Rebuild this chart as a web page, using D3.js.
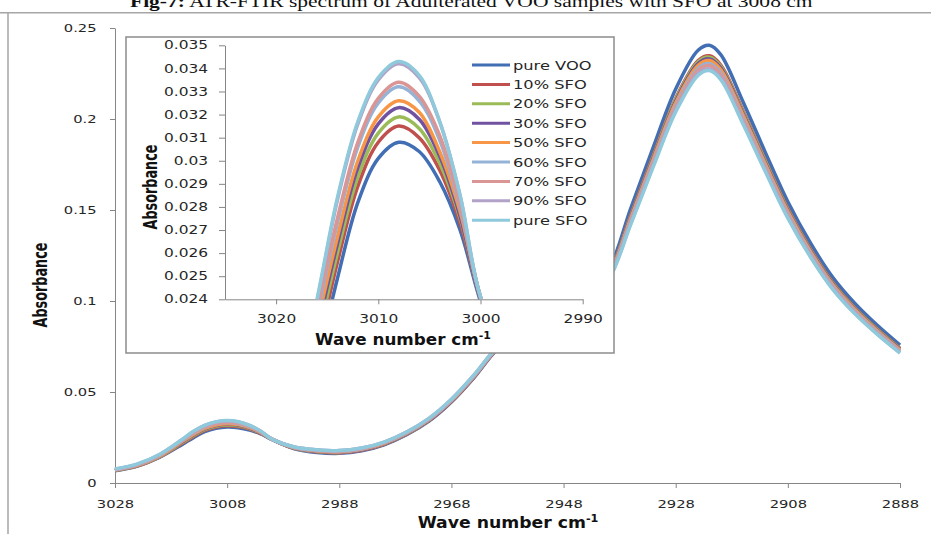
<!DOCTYPE html>
<html>
<head>
<meta charset="utf-8">
<script src="https://cdn.jsdelivr.net/npm/d3@7"></script>
<style>
  body { margin: 0; background: #fff; }
  svg { display: block; }
</style>
</head>
<body>
<svg id="chart" width="931" height="534"></svg>
<script>
// wave numbers (cm-1) shared by every spectrum
const wavenumbers = [3028, 3024, 3020, 3016, 3014, 3012, 3010, 3008, 3006, 3004, 3002, 3000,
  2996, 2992, 2988, 2984, 2980, 2976, 2972, 2968, 2964, 2960, 2956, 2952, 2948, 2944, 2940,
  2936, 2932, 2928, 2924, 2922, 2920, 2916, 2912, 2908, 2904, 2900, 2896, 2892, 2888]

const pureVOO = [0.0067,0.0093,0.0142,0.0212,0.0249,0.0282,0.0301,0.0308,0.0304,0.0291,0.0270,0.0239,
  0.0188,0.0168,0.0163,0.0177,0.0210,0.0265,0.0340,0.0445,0.0578,0.0730,0.0828,0.0878,0.0930,0.1010,0.1165,
  0.1510,0.1845,0.2165,0.2378,0.2405,0.2355,0.2095,0.1815,0.1545,0.1320,0.1130,0.0985,0.0865,0.0758]
const sfo10 = [0.0068,0.0094,0.0145,0.0218,0.0256,0.0289,0.0308,0.0315,0.0310,0.0296,0.0273,0.0240,
  0.0190,0.0171,0.0166,0.0180,0.0213,0.0268,0.0343,0.0448,0.0581,0.0732,0.0829,0.0878,0.0924,0.0998,0.1144,
  0.1474,0.1801,0.2113,0.2321,0.2347,0.2298,0.2045,0.1771,0.1508,0.1288,0.1103,0.0961,0.0844,0.0740]
const sfo20 = [0.0069,0.0095,0.0146,0.0222,0.0260,0.0293,0.0312,0.0319,0.0314,0.0299,0.0275,0.0240,
  0.0191,0.0173,0.0168,0.0182,0.0215,0.0270,0.0345,0.0450,0.0583,0.0733,0.0830,0.0878,0.0923,0.0996,0.1142,
  0.1469,0.1795,0.2107,0.2314,0.2340,0.2291,0.2038,0.1766,0.1503,0.1284,0.1099,0.0958,0.0842,0.0738]
const sfo30 = [0.0070,0.0096,0.0148,0.0226,0.0264,0.0297,0.0316,0.0323,0.0318,0.0302,0.0276,0.0240,
  0.0192,0.0174,0.0169,0.0183,0.0216,0.0271,0.0346,0.0451,0.0584,0.0734,0.0830,0.0878,0.0923,0.0994,0.1138,
  0.1463,0.1788,0.2098,0.2304,0.2330,0.2282,0.2030,0.1759,0.1497,0.1279,0.1095,0.0954,0.0838,0.0735]
const sfo50 = [0.0071,0.0097,0.0149,0.0229,0.0267,0.0300,0.0319,0.0326,0.0321,0.0304,0.0278,0.0241,
  0.0193,0.0176,0.0171,0.0185,0.0218,0.0273,0.0348,0.0453,0.0586,0.0735,0.0831,0.0878,0.0922,0.0992,0.1135,
  0.1457,0.1780,0.2089,0.2295,0.2321,0.2273,0.2022,0.1751,0.1491,0.1274,0.1090,0.0951,0.0835,0.0731]
const sfo60 = [0.0073,0.0100,0.0152,0.0233,0.0273,0.0306,0.0325,0.0332,0.0326,0.0309,0.0280,0.0241,
  0.0195,0.0178,0.0173,0.0187,0.0220,0.0275,0.0350,0.0455,0.0588,0.0737,0.0831,0.0878,0.0920,0.0989,0.1128,
  0.1447,0.1768,0.2074,0.2278,0.2304,0.2256,0.2007,0.1739,0.1480,0.1265,0.1083,0.0944,0.0829,0.0726]
const sfo70 = [0.0074,0.0101,0.0153,0.0235,0.0275,0.0308,0.0327,0.0334,0.0328,0.0311,0.0281,0.0241,
  0.0195,0.0179,0.0174,0.0188,0.0221,0.0276,0.0351,0.0456,0.0589,0.0737,0.0832,0.0878,0.0919,0.0987,0.1125,
  0.1441,0.1760,0.2065,0.2269,0.2294,0.2247,0.1999,0.1732,0.1474,0.1259,0.1078,0.0940,0.0825,0.0723]
const sfo90 = [0.0076,0.0104,0.0157,0.0239,0.0283,0.0316,0.0335,0.0342,0.0336,0.0317,0.0285,0.0241,
  0.0198,0.0183,0.0178,0.0192,0.0225,0.0280,0.0355,0.0460,0.0593,0.0740,0.0833,0.0878,0.0917,0.0983,0.1118,
  0.1428,0.1745,0.2048,0.2250,0.2275,0.2228,0.1982,0.1717,0.1462,0.1249,0.1069,0.0932,0.0818,0.0717]
const pureSFO = [0.0077,0.0105,0.0158,0.0240,0.0284,0.0317,0.0336,0.0343,0.0337,0.0317,0.0285,0.0241,
  0.0198,0.0183,0.0178,0.0192,0.0225,0.0280,0.0355,0.0460,0.0593,0.0740,0.0833,0.0878,0.0917,0.0981,0.1114,
  0.1422,0.1738,0.2039,0.2240,0.2266,0.2218,0.1973,0.1710,0.1455,0.1243,0.1064,0.0928,0.0815,0.0714]

const seriesNames = ["pure VOO", "10% SFO", "20% SFO", "30% SFO", "50% SFO", "60% SFO", "70% SFO", "90% SFO", "pure SFO"]
const seriesValues = [pureVOO, sfo10, sfo20, sfo30, sfo50, sfo60, sfo70, sfo90, pureSFO]
const colors = ["#426EB4", "#C0504D", "#9BBB59", "#7052A0", "#F79646", "#95B3D7", "#D99694", "#B3A2C7", "#8FC9DC"]

const xTicksMain = [3028, 3008, 2988, 2968, 2948, 2928, 2908, 2888]
const yTicksMain = [0, 0.05, 0.1, 0.15, 0.2, 0.25]
const xTicksInset = [3020, 3010, 3000, 2990]
const yTicksInset = [0.024, 0.025, 0.026, 0.027, 0.028, 0.029, 0.03, 0.031, 0.032, 0.033, 0.034, 0.035]

const series = seriesNames.map((name, i) => ({
  name: name,
  color: colors[i],
  points: wavenumbers.map((w, j) => ({ w: w, v: seriesValues[i][j] }))
}))

const svg = d3.select("#chart")
const axisColor = "#868686"
const font = "'DejaVu Sans', Verdana, sans-serif"

// page bits: caption cut off at the top (as in the scan) and frame lines
let caption = svg.append("text")
                 .attr("x", 0).attr("y", 0)
                 .style("font-family", "'Liberation Serif', 'Times New Roman', serif")
                 .style("font-size", "16px")
                 .attr("fill", "#111")
caption.append("tspan").style("font-weight", "bold").text("Fig-7:")
caption.append("tspan").text(" ATR-FTIR spectrum of Adulterated VOO samples with SFO at 3008 cm")
let capW = caption.node().getComputedTextLength()
caption.attr("transform", "translate(130,7) scale(" + (683 / capW) + ",1)")

svg.append("line").attr("x1", 0).attr("x2", 931).attr("y1", 12.7).attr("y2", 12.7)
   .attr("stroke", "#a6a6a6").attr("stroke-width", 1.5)
svg.append("line").attr("x1", 8).attr("x2", 8).attr("y1", 13).attr("y2", 534)
   .attr("stroke", "#a6a6a6").attr("stroke-width", 1.5)

// ---------- main chart ----------
let x = d3.scaleLinear().domain([3028, 2888]).range([115, 900])
let y = d3.scaleLinear().domain([0, 0.25]).range([483, 28])

let styleAxis = (g, size, sx) => {
  g.select(".domain").attr("stroke", axisColor)
  g.selectAll(".tick line").attr("stroke", axisColor)
  g.selectAll(".tick text")
   .style("font-family", font)
   .style("font-size", size + "px")
   .attr("fill", "#262626")
   .attr("transform", "scale(" + sx + ",1)")
}

let xAxis = svg.append("g")
               .attr("transform", "translate(0,483)")
               .call(d3.axisBottom(x).tickValues(xTicksMain).tickSize(5).tickPadding(13).tickSizeOuter(0).tickFormat(d3.format("d")))
styleAxis(xAxis, 10.5, 1.4)

let yAxis = svg.append("g")
               .attr("transform", "translate(115,0)")
               .call(d3.axisLeft(y).tickValues(yTicksMain).tickSize(5).tickSizeOuter(0).tickFormat((d) => String(d)))
styleAxis(yAxis, 10.5, 1.4)
yAxis.selectAll(".tick text").attr("x", -18.5 / 1.4)

let line = d3.line()
             .x((d) => x(d.w))
             .y((d) => y(d.v))
             .curve(d3.curveCatmullRom.alpha(0.5))

svg.append("g").selectAll("path")
   .data(series)
   .enter()
   .append("path")
   .attr("d", (d) => line(d.points))
   .attr("fill", "none")
   .attr("stroke", (d) => d.color)
   .attr("stroke-width", 3.5)
   .attr("stroke-linejoin", "round")

let title = (g, txt, cx, cy, size, sx, rotate) => {
  let t = g.append("text")
           .attr("text-anchor", "middle")
           .style("font-family", font)
           .style("font-size", size + "px")
           .style("font-weight", "bold")
           .attr("fill", "#111")
  t.append("tspan").text(txt)
  if (!rotate) {
    t.append("tspan").attr("dy", -size * 0.4).style("font-size", (size * 0.65) + "px").text("-1")
    t.attr("transform", "translate(" + cx + "," + cy + ") scale(" + sx + ",1)")
  } else {
    t.attr("dy", "0.35em")
    t.attr("transform", "translate(" + cx + "," + cy + ") scale(" + sx + ",1) rotate(-90)")
  }
  return t
}

title(svg, "Wave number cm", 508, 528, 15, 1.15, false)
title(svg, "Absorbance", 40, 285, 12.8, 1.45, true)

// ---------- inset ----------
let inset = svg.append("g")
inset.append("rect")
     .attr("x", 126).attr("y", 37).attr("width", 488).attr("height", 316)
     .attr("fill", "#fff").attr("stroke", "#8c8c8c").attr("stroke-width", 1.5)

let xi = d3.scaleLinear().domain([3025, 2990]).range([225, 582.7])
let yi = d3.scaleLinear().domain([0.024, 0.035]).range([299.3, 45.3])

inset.append("clipPath").attr("id", "insetClip")
     .append("rect")
     .attr("x", xi(3025)).attr("y", yi(0.035) - 5)
     .attr("width", xi(2990) - xi(3025)).attr("height", yi(0.024) - yi(0.035) + 5)

let xiAxis = inset.append("g")
                  .attr("transform", "translate(0," + yi(0.024) + ")")
                  .call(d3.axisBottom(xi).tickValues(xTicksInset).tickSize(5).tickPadding(10.5).tickSizeOuter(0).tickFormat(d3.format("d")))
styleAxis(xiAxis, 11.5, 1.34)

let yiAxis = inset.append("g")
                  .attr("transform", "translate(" + xi(3025) + ",0)")
                  .call(d3.axisLeft(yi).tickValues(yTicksInset).tickSize(6).tickSizeOuter(0).tickFormat((d) => String(d)))
styleAxis(yiAxis, 11.5, 1.34)
yiAxis.selectAll(".tick text").attr("x", -17 / 1.34)

let lineInset = d3.line()
                  .x((d) => xi(d.w))
                  .y((d) => yi(d.v))
                  .curve(d3.curveCatmullRom.alpha(0.5))

inset.append("g")
     .attr("clip-path", "url(#insetClip)")
     .selectAll("path")
     .data(series)
     .enter()
     .append("path")
     .attr("d", (d) => lineInset(d.points))
     .attr("fill", "none")
     .attr("stroke", (d) => d.color)
     .attr("stroke-width", 3.5)

title(inset, "Wave number cm", 403, 345, 15, 1.12, false)
title(inset, "Absorbance", 150, 187, 12.8, 1.45, true)

// legend
let legend = inset.append("g")
legend.selectAll("line")
      .data(series)
      .enter()
      .append("line")
      .attr("x1", 472).attr("x2", 510)
      .attr("y1", (d, i) => 65 + i * 19.4)
      .attr("y2", (d, i) => 65 + i * 19.4)
      .attr("stroke", (d) => d.color)
      .attr("stroke-width", 3)
legend.selectAll("text")
      .data(series)
      .enter()
      .append("text")
      .text((d) => d.name)
      .attr("dy", "0.36em")
      .attr("transform", (d, i) => "translate(513," + (65 + i * 19.4) + ") scale(1.3,1)")
      .style("font-family", font)
      .style("font-size", "12.5px")
      .attr("fill", "#262626")
</script>
</body>
</html>
